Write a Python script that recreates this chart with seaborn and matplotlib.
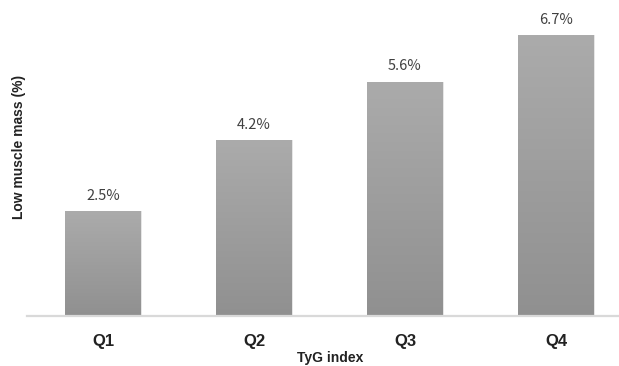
import numpy as np
import pandas as pd
import matplotlib
matplotlib.use("Agg")
import matplotlib.pyplot as plt
import seaborn as sns

quartiles = ["Q1", "Q2", "Q3", "Q4"]
low_muscle_pct = [2.5, 4.2, 5.6, 6.7]
value_labels = ["2.5%", "4.2%", "5.6%", "6.7%"]

df = pd.DataFrame({"quartile": quartiles, "pct": low_muscle_pct})

sns.set_style("white")
plt.rcParams["font.family"] = ["Liberation Sans", "DejaVu Sans"]

fig = plt.figure(figsize=(6.19, 3.66), dpi=100)
ax = fig.add_axes([0.0444, 0.1366, 0.9758, 0.858])

sns.barplot(data=df, x="quartile", y="pct", color="#9e9e9e", width=0.5,
            edgecolor="none", ax=ax)

ax.set_xlim(-0.5, 3.5)
ax.set_ylim(0, 7.5)

# vertical gradient on each bar (light top -> darker bottom)
grad = np.linspace(0, 1, 256).reshape(-1, 1)
cmap = matplotlib.colors.LinearSegmentedColormap.from_list("g", ["#909090", "#ababab"])
for p in ax.patches:
    x0, y0 = p.get_x(), p.get_y()
    w, h = p.get_width(), p.get_height()
    # faint shadow
    ax.bar(x0 + w / 2 + 0.004, h, width=w + 0.012, bottom=0, color="#e6e6e6",
           zorder=1, edgecolor="none")
    im = ax.imshow(grad, extent=[x0, x0 + w, y0, y0 + h], origin="lower",
                   cmap=cmap, aspect="auto", zorder=2)
    im.set_clip_path(p)
    p.set_zorder(2)

for i, (v, lab) in enumerate(zip(low_muscle_pct, value_labels)):
    ax.text(i, v + 0.2, lab, ha="center", va="bottom", fontsize=10.5,
            color="#404040", family=["Noto Sans CJK KR", "DejaVu Sans"])

sns.despine(ax=ax, left=True, right=True, top=True)
ax.spines["bottom"].set_color("#d9d9d9")
ax.spines["bottom"].set_linewidth(1.6)
ax.set_yticks([])
ax.tick_params(axis="x", length=0, pad=13)
for t in ax.get_xticklabels():
    t.set_fontsize(12)
    t.set_fontweight("bold")
    t.set_color("#222222")

ax.set_xlabel("")
ax.set_ylabel("")
fig.text(330 / 619, 1 - 358 / 366, "TyG index", ha="center", va="center",
         fontsize=10, fontweight="bold", color="#222222")
fig.text(19 / 619, 1 - 147 / 366, "Low muscle mass (%)", ha="center", va="center",
         rotation=90, fontsize=10, fontweight="bold", color="#222222")

fig.savefig("out.png", dpi=100)
